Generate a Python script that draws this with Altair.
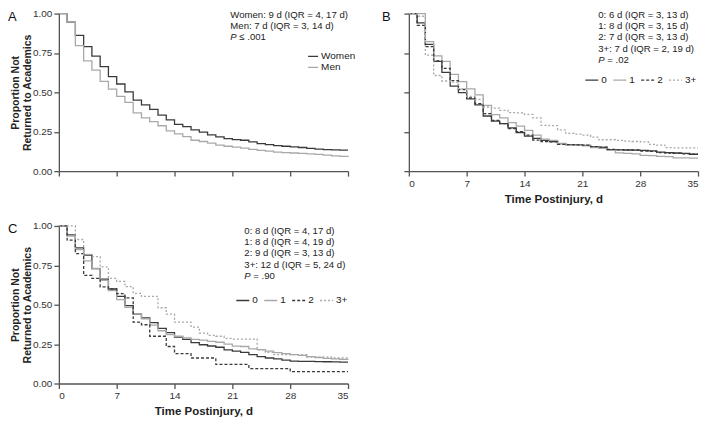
import altair as alt
import pandas as pd

days = list(range(36))

# Panel A: sex
a_names = ["Women", "Men"]
a_women = [1.000, 0.946, 0.862, 0.790, 0.730, 0.663, 0.600, 0.553, 0.503, 0.450, 0.420, 0.392,
           0.355, 0.325, 0.297, 0.283, 0.262, 0.248, 0.230, 0.217, 0.206, 0.200, 0.196, 0.185,
           0.175, 0.168, 0.162, 0.158, 0.154, 0.150, 0.144, 0.140, 0.137, 0.135, 0.133, 0.133]
a_men = [1.000, 0.946, 0.797, 0.700, 0.641, 0.570, 0.521, 0.474, 0.436, 0.370, 0.338, 0.314,
         0.288, 0.256, 0.236, 0.219, 0.196, 0.188, 0.178, 0.165, 0.158, 0.152, 0.146, 0.138,
         0.132, 0.127, 0.121, 0.118, 0.115, 0.112, 0.110, 0.106, 0.101, 0.097, 0.093, 0.090]
a_stats = ["Women: 9 d (IQR = 4, 17 d)", "Men: 7 d (IQR = 3, 14 d)"]
a_p = "≤ .001"

# Panel B / C groups
groups = ["0", "1", "2", "3+"]
b_g0 = [1.000, 0.941, 0.805, 0.696, 0.627, 0.539, 0.498, 0.459, 0.421, 0.350, 0.317, 0.302,
        0.275, 0.245, 0.222, 0.208, 0.195, 0.188, 0.174, 0.168, 0.166, 0.163, 0.153, 0.150,
        0.136, 0.135, 0.134, 0.133, 0.132, 0.128, 0.121, 0.118, 0.115, 0.112, 0.107, 0.107]
b_g1 = [1.000, 1.000, 0.822, 0.731, 0.696, 0.614, 0.568, 0.522, 0.484, 0.417, 0.358, 0.338,
        0.308, 0.285, 0.258, 0.228, 0.203, 0.195, 0.176, 0.165, 0.163, 0.160, 0.149, 0.145,
        0.132, 0.116, 0.113, 0.110, 0.100, 0.098, 0.094, 0.092, 0.084, 0.084, 0.083, 0.083]
b_g2 = [1.000, 0.925, 0.790, 0.700, 0.652, 0.574, 0.518, 0.464, 0.428, 0.365, 0.322, 0.302,
        0.270, 0.250, 0.228, 0.197, 0.187, 0.185, 0.170, 0.168, 0.166, 0.165, 0.155, 0.152,
        0.138, 0.136, 0.135, 0.134, 0.127, 0.125, 0.118, 0.115, 0.112, 0.110, 0.107, 0.107]
b_g3 = [1.000, 0.983, 0.736, 0.607, 0.572, 0.565, 0.522, 0.475, 0.455, 0.407, 0.400, 0.385,
        0.371, 0.370, 0.360, 0.338, 0.291, 0.289, 0.262, 0.240, 0.235, 0.229, 0.216, 0.199,
        0.199, 0.195, 0.190, 0.188, 0.185, 0.170, 0.165, 0.149, 0.148, 0.148, 0.147, 0.147]
b_stats = ["0: 6 d (IQR = 3, 13 d)", "1: 8 d (IQR = 3, 15 d)", "2: 7 d (IQR = 3, 13 d)",
           "3+: 7 d (IQR = 2, 19 d)"]
b_p = "= .02"

c_g0 = [1.000, 0.943, 0.861, 0.815, 0.729, 0.663, 0.600, 0.553, 0.494, 0.440, 0.416, 0.386,
        0.350, 0.323, 0.294, 0.280, 0.259, 0.246, 0.238, 0.230, 0.214, 0.206, 0.197, 0.183,
        0.170, 0.162, 0.157, 0.148, 0.142, 0.141, 0.140, 0.139, 0.138, 0.137, 0.136, 0.136]
c_g1 = [1.000, 0.935, 0.850, 0.778, 0.730, 0.655, 0.590, 0.533, 0.483, 0.440, 0.410, 0.370,
        0.335, 0.310, 0.300, 0.290, 0.280, 0.276, 0.268, 0.262, 0.250, 0.237, 0.235, 0.220,
        0.215, 0.205, 0.196, 0.190, 0.183, 0.178, 0.170, 0.165, 0.160, 0.157, 0.153, 0.152]
c_g2 = [1.000, 0.910, 0.825, 0.687, 0.667, 0.613, 0.600, 0.570, 0.543, 0.389, 0.373, 0.300,
        0.300, 0.235, 0.190, 0.190, 0.162, 0.162, 0.162, 0.121, 0.121, 0.121, 0.121, 0.095,
        0.095, 0.095, 0.095, 0.095, 0.075, 0.075, 0.075, 0.075, 0.075, 0.075, 0.075, 0.075]
c_g3 = [1.000, 1.000, 0.914, 0.820, 0.805, 0.740, 0.667, 0.648, 0.615, 0.572, 0.553, 0.553,
        0.481, 0.440, 0.389, 0.389, 0.358, 0.320, 0.306, 0.300, 0.286, 0.282, 0.282, 0.282,
        0.214, 0.198, 0.183, 0.183, 0.183, 0.183, 0.167, 0.167, 0.167, 0.162, 0.162, 0.162]
c_stats = ["0: 8 d (IQR = 4, 17 d)", "1: 8 d (IQR = 4, 19 d)", "2: 9 d (IQR = 3, 13 d)",
           "3+: 12 d (IQR = 5, 24 d)"]
c_p = "= .90"

x_ticks = [0, 7, 14, 21, 28, 35]
y_ticks = [0, 0.25, 0.5, 0.75, 1.0]

DARK = "#3a3a3a"
LIGHT = "#a8a8a8"
FONT = "Liberation Sans"
W = 290


def long_df(names, series):
    rows = []
    for n, vals in zip(names, series):
        for d, v in zip(days, vals):
            rows.append({"grp": n, "day": d, "surv": v})
    return pd.DataFrame(rows)


def panel(df, names, colors, dashes, stats, pval, letter, letter_x, show_x, show_y,
          height, leg_x, leg_y, leg_dir, sym, txt_x, txt_y, line_h):
    x_axis = alt.Axis(values=x_ticks, labels=show_x, grid=False,
                      title="Time Postinjury, d" if show_x else None)
    y_axis = alt.Axis(values=y_ticks, format=".2f", labels=show_y, grid=False,
                      title=["Proportion Not", "Returned to Academics"] if show_y else None,
                      titleX=-38.5, titleY=height / 2, titleAngle=270, titleBaseline="bottom",
                      titleAlign="center", titleLineHeight=12, titleFontSize=10.5)
    leg = alt.Legend(title=None, orient="none", legendX=leg_x, legendY=leg_y,
                     direction=leg_dir, symbolType="stroke", symbolSize=sym,
                     symbolStrokeWidth=1.3, labelFontSize=10, labelOffset=2,
                     rowPadding=0, columnPadding=3, padding=0, labelColor="#222",
                     labelFont=FONT)
    lines = alt.Chart(df).mark_line(interpolate="step-after", strokeWidth=1.3).encode(
        x=alt.X("day:Q", scale=alt.Scale(domain=[0, 35], nice=False), axis=x_axis),
        y=alt.Y("surv:Q", scale=alt.Scale(domain=[0, 1], nice=False), axis=y_axis),
        color=alt.Color("grp:N", scale=alt.Scale(domain=names, range=colors), legend=leg,
                        sort=names),
        strokeDash=alt.StrokeDash("grp:N", scale=alt.Scale(domain=names, range=dashes),
                                  legend=leg, sort=names),
    )
    let = alt.Chart(pd.DataFrame({"t": [letter]})).mark_text(
        align="left", baseline="top", fontSize=13, font=FONT, color="#111"
    ).encode(text="t:N", x=alt.value(letter_x), y=alt.value(-3))
    st = alt.Chart(pd.DataFrame({"t": ["\n".join(stats)]})).mark_text(
        align="left", baseline="top", fontSize=9.6, font=FONT, color="#222",
        lineBreak="\n", lineHeight=line_h
    ).encode(text="t:N", x=alt.value(txt_x), y=alt.value(txt_y))
    py = txt_y + line_h * len(stats)
    p1 = alt.Chart(pd.DataFrame({"t": ["P"]})).mark_text(
        align="left", baseline="top", fontSize=9.6, font=FONT, color="#222", fontStyle="italic"
    ).encode(text="t:N", x=alt.value(txt_x), y=alt.value(py))
    p2 = alt.Chart(pd.DataFrame({"t": [pval]})).mark_text(
        align="left", baseline="top", fontSize=9.6, font=FONT, color="#222"
    ).encode(text="t:N", x=alt.value(txt_x + 9), y=alt.value(py))
    return alt.layer(lines, let, st, p1, p2).properties(width=W, height=height)


A = panel(long_df(a_names, [a_women, a_men]), a_names, [DARK, LIGHT], [[1, 0], [1, 0]],
          a_stats, a_p, "A", -51, False, True, 158, W - 41, 37, "vertical", 100,
          W - 118, -4, 11)
B = panel(long_df(groups, [b_g0, b_g1, b_g2, b_g3]), groups, [DARK, LIGHT, DARK, LIGHT],
          [[1, 0], [1, 0], [3, 2], [2, 2]], b_stats, b_p, "B", -27, True, False, 158,
          176, 59, "horizontal", 169, W - 100, -4, 11.5)
C = panel(long_df(groups, [c_g0, c_g1, c_g2, c_g3]), groups, [DARK, LIGHT, DARK, LIGHT],
          [[1, 0], [1, 0], [3, 2], [2, 2]], c_stats, c_p, "C", -51, True, True, 158,
          177, 67, "horizontal", 169, W - 104, 0, 11.3)

chart = alt.concat(A, B, C, columns=2, spacing={"row": 16, "column": 26}).resolve_scale(
    x="independent", y="independent", color="independent", strokeDash="independent"
).resolve_legend(color="independent", strokeDash="independent").properties(
    padding=0
).configure_view(strokeWidth=0).configure_axis(
    domainColor="#555", domainWidth=1.3, tickColor="#555", tickWidth=1.3, tickSize=5,
    labelFont=FONT, labelFontSize=10, labelColor="#333", labelPadding=2,
    titleFont=FONT, titleFontSize=11.5, titleFontWeight="bold", titleColor="#222",
    titlePadding=5
)

chart.save("out.html", embed_options={"renderer": "svg", "actions": False})
